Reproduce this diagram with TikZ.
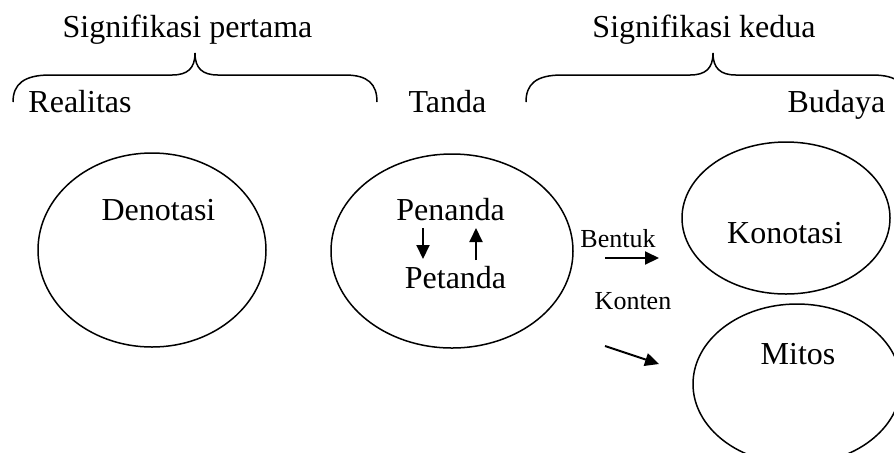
\documentclass[tikz,border=0pt]{standalone}
\usepackage{fontspec}
\setmainfont{Liberation Serif}
\usetikzlibrary{shapes.geometric,arrows.meta}
\begin{document}
\begin{tikzpicture}[x=0.5pt,y=-0.5pt,
  oval/.style={draw,ellipse,line width=0.75pt,inner sep=0pt},
  lbl/.style={anchor=base,inner sep=0pt,font=\fontsize{16}{19}\selectfont},
  sml/.style={anchor=base,inner sep=0pt,font=\fontsize{13}{16}\selectfont},
  brace/.style={line width=0.75pt},
  pointer/.style={line width=1pt,-{Triangle[length=7pt,width=6.5pt]}}]
\clip (0,0) rectangle (894,452);

% headings
\node[lbl] (sig1) at (187.5,37) {Signifikasi pertama};
\node[lbl] (sig2) at (704,37) {Signifikasi kedua};

% curly braces under the headings
\draw[brace] (13,102) .. controls (13,84) and (24,75) .. (50,75)
  -- (172,75) .. controls (188,75) and (195,68) .. (195,53)
  .. controls (195,68) and (202,75) .. (218,75)
  -- (345,75) .. controls (368,75) and (377,84) .. (377,102);
\draw[brace] (526,102) .. controls (526,84) and (536,75) .. (562,75)
  -- (690,75) .. controls (706,75) and (713,68) .. (713,53)
  .. controls (713,68) and (720,75) .. (736,75)
  -- (872,75) .. controls (898,75) and (906,84) .. (906,102);

% level labels
\node[lbl] (realitas) at (80,112) {Realitas};
\node[lbl] (tanda) at (447.5,112) {Tanda};
\node[lbl] (budaya) at (836.5,112) {Budaya};

% ellipses
\node[oval,minimum width=114pt,minimum height=97pt] (denE) at (152,250) {};
\node[oval,minimum width=121pt,minimum height=97pt] (tanE) at (452,251) {};
\node[oval,minimum width=104pt,minimum height=76pt] (konE) at (786,218) {};
\node[oval,minimum width=104pt,minimum height=80pt] (mitE) at (797,384) {};

% texts in the ellipses
\node[lbl] (denotasi) at (158.5,220) {Denotasi};
\node[lbl] (penanda) at (450.5,220) {Penanda};
\node[lbl] (petanda) at (455.5,288) {Petanda};
\node[lbl] (konotasi) at (785,243) {Konotasi};
\node[lbl] (mitos) at (798,364) {Mitos};

% small labels
\node[sml] (bentuk) at (618,247) {Bentuk};
\node[sml] (konten) at (633,309) {Konten};

% arrow end points
\coordinate (ds) at (423,228);
\coordinate (de) at (423,259);
\coordinate (us) at (476,260);
\coordinate (ue) at (476,228);
\coordinate (bs) at (605,258);
\coordinate (be) at (659,258);
\coordinate (ks) at (605,346);
\coordinate (ke) at (659,364);

\draw[pointer] (ds) -- (de);
\draw[pointer] (us) -- (ue);
\draw[pointer] (bs) -- (be);
\draw[pointer] (ks) -- (ke);
\end{tikzpicture}
\end{document}
